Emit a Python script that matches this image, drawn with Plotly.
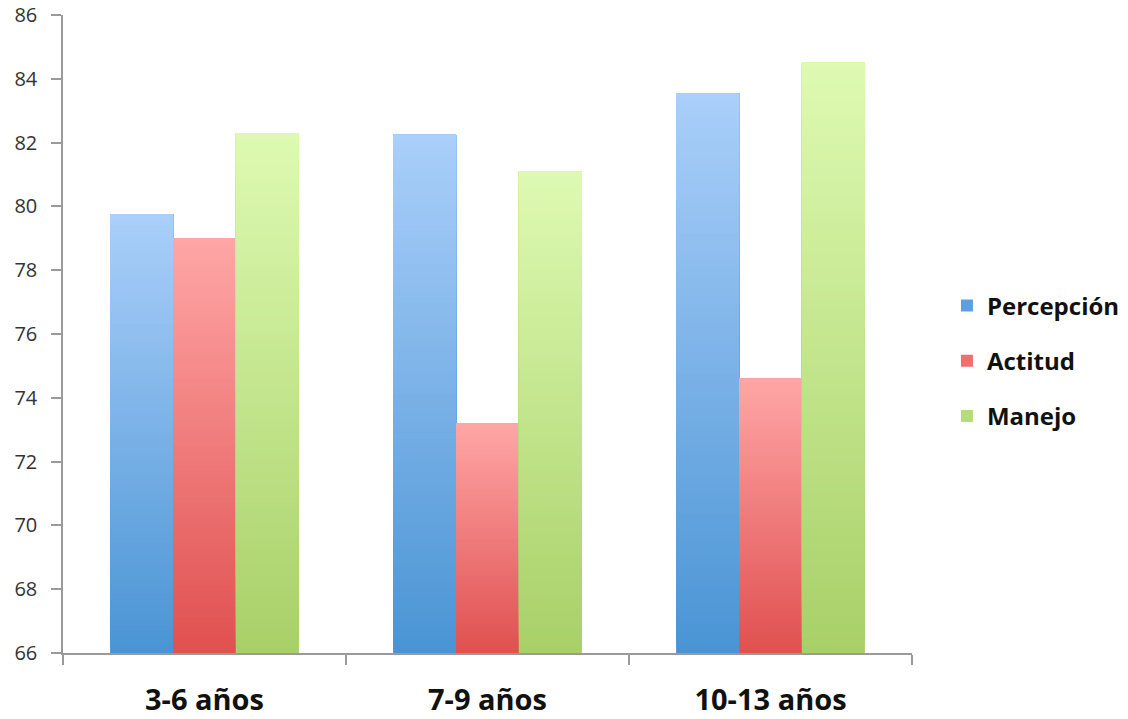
import plotly.graph_objects as go

# Data
categories = ["3-6 años", "7-9 años", "10-13 años"]
percepcion = [79.75, 82.25, 83.55]
actitud = [79.0, 73.2, 74.6]
manejo = [82.3, 81.1, 84.5]

series_names = ["Percepción", "Actitud", "Manejo"]
series_values = [percepcion, actitud, manejo]

# (bottom colour, top colour, legend colour) for each series
palettes = [
    ((74, 148, 212), (170, 207, 250), "#5e9fe0"),
    ((224, 80, 80), (255, 166, 166), "#ee7070"),
    ((168, 208, 104), (222, 250, 178), "#b5dc7c"),
]

Y_MIN, Y_MAX = 66, 86
N_SEG = 80


def lerp(c0, c1, t):
    return "rgb({},{},{})".format(*[round(a + (b - a) * t) for a, b in zip(c0, c1)])


fig = go.Figure()

for name, vals, (c_bot, c_top, c_leg) in zip(series_names, series_values, palettes):
    # Base bar carrying the value and the legend entry
    fig.add_trace(go.Bar(
        x=categories, y=vals, name=name, offsetgroup=name,
        marker=dict(color=c_leg, line=dict(width=0)),
        legendgroup=name, showlegend=True,
    ))
    # Vertical gradient: each slice starts higher and runs to the bar top,
    # so later slices cover the upper part of earlier ones without seams
    for k in range(N_SEG):
        t = (k + 0.5) / N_SEG
        bases = [Y_MIN + (v - Y_MIN) * k / N_SEG for v in vals]
        heights = [v - b for v, b in zip(vals, bases)]
        fig.add_trace(go.Bar(
            x=categories, y=heights, base=bases, offsetgroup=name,
            marker=dict(color=lerp(c_bot, c_top, t), line=dict(width=0)),
            legendgroup=name, showlegend=False, hoverinfo="skip",
        ))

fig.update_layout(
    width=1128, height=719,
    margin=dict(l=63, r=216, t=15, b=66),
    paper_bgcolor="white", plot_bgcolor="white",
    barmode="group", bargap=0.334, bargroupgap=0,
    font=dict(family="Open Sans, Liberation Sans, sans-serif", color="#333333"),
    legend=dict(
        xref="container", yref="container",
        x=0.8395, y=0.498, xanchor="left", yanchor="middle",
        font=dict(size=24, color="#111111", weight="bold"),
        tracegroupgap=21, itemwidth=30,
    ),
    showlegend=True,
)

fig.update_yaxes(
    range=[Y_MIN, Y_MAX], dtick=2, tick0=66,
    showgrid=False, zeroline=False, automargin=False,
    showline=True, linecolor="#9a9a9a", linewidth=1.5,
    ticks="outside", ticklen=10, tickcolor="#9a9a9a", tickwidth=1.5,
    tickfont=dict(size=20, color="#333333"),
    ticklabelstandoff=10, ticklabeloverflow="allow",
)
fig.update_xaxes(
    showgrid=False, zeroline=False, automargin=False,
    showline=True, linecolor="#9a9a9a", linewidth=1.5,
    ticks="outside", ticklen=10, tickcolor="#9a9a9a", tickwidth=1.5,
    tickson="boundaries",
    tickfont=dict(size=29, color="#111111", weight="bold"),
    ticklabelstandoff=20, ticklabeloverflow="allow",
)

fig.write_html("out.html")
